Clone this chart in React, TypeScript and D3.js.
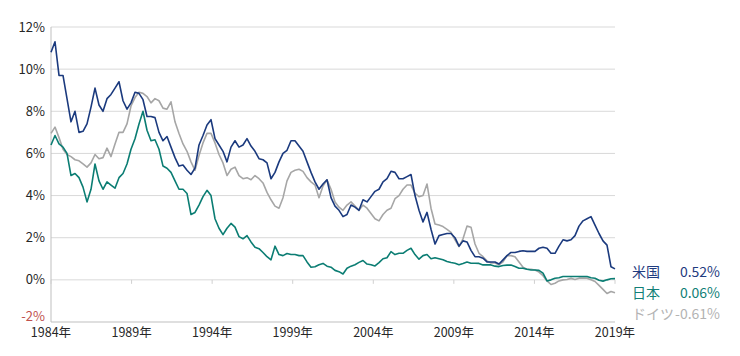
import React from "react";
import * as d3 from "d3";

// 10-year government bond yields (%), sampled evenly across the plotted period
const usYields = [
  10.8, 11.3, 9.7, 9.7, 8.6, 7.5, 8.0, 7.0, 7.05, 7.4,
  8.2, 9.1, 8.3, 8.0, 8.6, 8.8, 9.1, 9.4, 8.5, 8.1,
  8.4, 8.9, 8.85, 8.55, 7.75, 7.75, 7.7, 7.0, 6.6, 6.8,
  6.3, 5.8, 5.4, 5.45, 5.2, 5.0, 5.3, 6.4, 6.85, 7.35,
  7.6, 6.7, 6.4, 6.1, 5.6, 6.3, 6.6, 6.3, 6.4, 6.7,
  6.35, 6.1, 5.75, 5.7, 5.55, 4.8, 5.1, 5.6, 6.0, 6.15,
  6.6, 6.6, 6.35, 6.1, 5.6, 5.1, 4.65, 4.3, 4.55, 4.75,
  3.9, 3.5, 3.3, 3.0, 3.1, 3.55, 3.45, 3.3, 3.8, 3.7,
  3.95, 4.2, 4.3, 4.65, 4.8, 5.15, 5.1, 4.8, 4.8, 4.9,
  5.0, 4.0, 3.3, 2.75, 3.2, 2.4, 1.7, 2.1, 2.15, 2.2,
  2.2, 2.0, 1.6, 1.85, 1.8, 1.4, 1.1, 1.1, 1.03, 0.85,
  0.85, 0.85, 0.75, 0.95, 1.15, 1.3, 1.3, 1.35, 1.38, 1.35,
  1.35, 1.35, 1.5, 1.55, 1.5, 1.26, 1.26, 1.6, 1.9, 1.85,
  1.9, 2.1, 2.55, 2.8, 2.9, 3.0, 2.6, 2.2, 1.85, 1.65,
  0.62, 0.52,
];
const jpYields = [
  6.4, 6.85, 6.45, 6.3, 6.0, 4.95, 5.05, 4.85, 4.4, 3.7,
  4.3, 5.5, 4.7, 4.3, 4.65, 4.5, 4.35, 4.85, 5.05, 5.5,
  6.2, 6.7, 7.4, 8.0, 7.1, 6.6, 6.65, 6.2, 5.4, 5.3,
  5.1, 4.7, 4.3, 4.3, 4.1, 3.1, 3.2, 3.55, 3.95, 4.25,
  4.0, 2.9, 2.45, 2.15, 2.45, 2.68, 2.5, 2.05, 1.95, 2.1,
  1.8, 1.55, 1.48, 1.3, 1.1, 0.95, 1.6, 1.2, 1.15, 1.25,
  1.2, 1.2, 1.15, 1.15, 0.85, 0.6, 0.62, 0.72, 0.78, 0.65,
  0.6, 0.45, 0.39, 0.28, 0.55, 0.65, 0.72, 0.83, 0.92, 0.75,
  0.72, 0.66, 0.82, 1.0, 1.05, 1.34, 1.2, 1.26, 1.26, 1.4,
  1.5, 1.2, 0.98, 1.15, 1.2, 1.0, 1.05, 1.0, 0.95, 0.87,
  0.82, 0.79, 0.72, 0.78, 0.85, 0.79, 0.79, 0.78, 0.71, 0.71,
  0.71, 0.65, 0.63, 0.68, 0.7, 0.7, 0.63, 0.55, 0.55, 0.5,
  0.47, 0.47, 0.45, 0.32, -0.05, 0.0, 0.08, 0.1, 0.16, 0.16,
  0.16, 0.16, 0.16, 0.16, 0.16, 0.1, 0.08, -0.02, -0.06, 0.0,
  0.05, 0.06,
];
const deYields = [
  6.95, 7.25, 6.75, 6.2, 5.95, 5.85, 5.7, 5.65, 5.5, 5.35,
  5.55, 5.95, 5.75, 5.8, 6.25, 5.85, 6.45, 7.0, 7.0, 7.4,
  8.25, 8.65, 8.9, 8.85, 8.7, 8.4, 8.6, 8.5, 8.15, 8.1,
  8.45, 7.5, 6.95, 6.45, 6.1, 5.6, 5.2, 5.9, 6.5, 6.95,
  6.95, 6.5, 5.95, 5.55, 4.95, 5.25, 5.35, 4.95, 4.8, 4.85,
  4.75, 4.95, 4.8, 4.6, 4.15, 3.8, 3.5, 3.4, 3.9, 4.7,
  5.1, 5.2, 5.25, 5.15, 4.85, 4.65, 4.5, 3.9, 4.45, 4.75,
  4.3, 3.7, 3.45, 3.3, 3.55, 3.7, 3.5, 3.3, 3.55, 3.4,
  3.15, 2.9, 2.8, 3.1, 3.3, 3.4, 3.85, 4.0, 4.3, 4.5,
  4.5, 4.1, 3.95, 4.0, 4.55, 3.4, 2.65, 2.6, 2.53, 2.4,
  2.25, 1.9, 1.58, 1.95, 2.55, 2.5, 1.7, 1.26, 1.1, 0.9,
  0.8, 0.8, 0.71, 0.85, 1.15, 1.15, 1.1, 0.85, 0.6, 0.5,
  0.5, 0.47, 0.37, 0.2, -0.05, -0.22, -0.16, -0.05, 0.0, 0.02,
  0.07, 0.02, 0.08, 0.08, 0.08, 0.0, -0.08, -0.26, -0.45, -0.65,
  -0.55, -0.61,
];

const seriesNames = ["米国", "日本", "ドイツ"];
const lastLabels = ["0.52%", "0.06%", "-0.61%"];

const yTicks = [-2, 0, 2, 4, 6, 8, 10, 12];
const xTickYears = [1984, 1989, 1994, 1999, 2004, 2009, 2014, 2019];
const xTickLabels = ["1984年", "1989年", "1994年", "1999年", "2004年", "2009年", "2014年", "2019年"];

const START_YEAR = 1984;
const END_YEAR = 2019;

const lineColors = ["#1b3a7e", "#0b7d73", "#a6a6a6"];
const legendColors = ["#1f3c80", "#127f77", "#b3b3b3"];

const W = 740;
const H = 356;
const L = 51;
const R = 615;
const T = 27;
const B = 322;
const FONT = "'Noto Sans CJK JP', 'Noto Sans', sans-serif";

export default function App() {
  const x = d3.scaleLinear().domain([START_YEAR, END_YEAR]).range([L, R]);
  const y = d3.scaleLinear().domain([-2, 12]).range([B, T]);
  const series = [usYields, jpYields, deYields];

  const makeLine = (vals: number[]) => {
    const n = vals.length - 1;
    const step = (END_YEAR - START_YEAR) / n;
    return d3
      .line<number>()
      .x((_, i) => x(START_YEAR + i * step))
      .y((v) => y(v))(vals) as string;
  };

  const legendY = [y(0.35) + 0, y(-0.75), y(-1.75)];

  return (
    <svg
      width={W}
      height={H}
      style={{ position: "absolute", left: 0, top: 0, background: "#fff" }}
      fontFamily={FONT}
    >
      {/* gridlines */}
      {yTicks.map((t) => (
        <line
          key={"g" + t}
          x1={L}
          x2={R}
          y1={y(t)}
          y2={y(t)}
          stroke={t === -2 ? "#bfbfbf" : "#d9d9d9"}
          strokeWidth={1}
        />
      ))}
      {/* left axis */}
      <line x1={L} x2={L} y1={T} y2={B} stroke="#bfbfbf" strokeWidth={1} />
      {/* tick marks on zero line */}
      {xTickYears.map((yr) => (
        <line
          key={"tk" + yr}
          x1={x(yr)}
          x2={x(yr)}
          y1={y(0)}
          y2={y(0) + 4}
          stroke="#d0d0d0"
          strokeWidth={1}
        />
      ))}
      {/* y labels */}
      {yTicks.map((t) => (
        <text
          key={"yl" + t}
          x={45}
          y={y(t) + (t === -2 ? -1 : 4.5)}
          textAnchor="end"
          fontSize={13}
          fill={t < 0 ? "#c0504d" : "#262626"}
        >
          {t + "%"}
        </text>
      ))}
      {/* x labels */}
      {xTickYears.map((yr, i) => (
        <text
          key={"xl" + yr}
          x={x(yr)}
          y={337}
          textAnchor="middle"
          fontSize={12.5}
          fill="#262626"
        >
          {xTickLabels[i]}
        </text>
      ))}
      {/* lines: draw Germany first, then Japan, then US */}
      {[2, 1, 0].map((si) => (
        <path
          key={"s" + si}
          d={makeLine(series[si])}
          fill="none"
          stroke={lineColors[si]}
          strokeWidth={1.6}
          strokeLinejoin="round"
        />
      ))}
      {/* legend */}
      {seriesNames.map((name, i) => (
        <g key={"lg" + i} fill={legendColors[i]} fontSize={14}>
          <text x={632} y={277 + i * 21}>
            {name}
          </text>
          <text x={720} y={277 + i * 21} textAnchor="end">
            {lastLabels[i]}
          </text>
        </g>
      ))}
    </svg>
  );
}
